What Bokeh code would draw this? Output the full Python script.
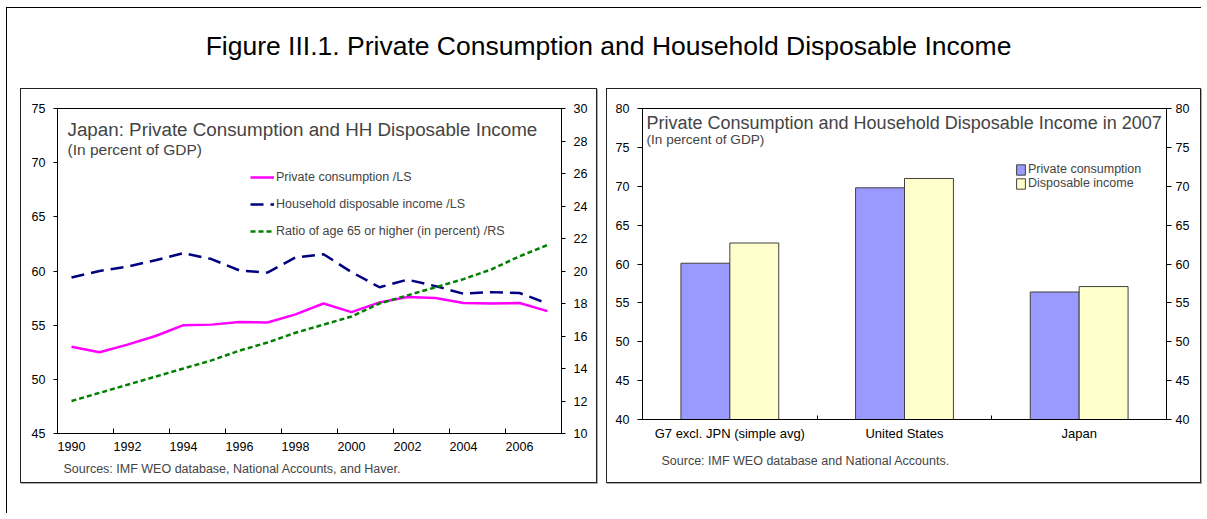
from bokeh.plotting import figure
from bokeh.models import Range1d, LinearAxis, FixedTicker, Label, Spacer, ColumnDataSource, Title
from bokeh.layouts import column, row
from bokeh.transform import dodge
from bokeh.embed import file_html
from bokeh.resources import INLINE

FONT = "Liberation Sans"

# ---------------- data ----------------
years = list(range(1990, 2008))
private_consumption = [53.0, 52.5, 53.2, 54.0, 55.0, 55.05, 55.3, 55.25, 56.0, 57.0,
                       56.2, 57.1, 57.6, 57.5, 57.05, 57.0, 57.05, 56.3]
hh_disposable_income = [59.4, 60.0, 60.4, 61.0, 61.65, 61.1, 60.05, 59.85, 61.25, 61.55,
                        59.9, 58.5, 59.2, 58.6, 57.9, 58.05, 57.97, 57.0]
ratio_65_plus = [12.0, 12.5, 13.0, 13.5, 14.0, 14.5, 15.1, 15.6, 16.2, 16.7,
                 17.2, 18.0, 18.5, 19.0, 19.5, 20.1, 20.9, 21.6]
year_ticks = list(range(1990, 2007, 2))
left_ticks = [45, 50, 55, 60, 65, 70, 75]
right_ticks = [10, 12, 14, 16, 18, 20, 22, 24, 26, 28, 30]

categories = ["G7 excl. JPN (simple avg)", "United States", "Japan"]
pc_2007 = [60.1, 69.8, 56.4]
di_2007 = [62.7, 71.0, 57.1]
bar_ticks = [40, 45, 50, 55, 60, 65, 70, 75, 80]


def style_axis(ax, size="12.5px"):
    ax.major_label_text_font = FONT
    ax.major_label_text_font_size = size
    ax.major_label_text_color = "black"
    ax.axis_line_color = "black"
    ax.major_tick_line_color = "black"
    ax.minor_tick_line_color = None


# ---------------- title strip ----------------
tfig = figure(width=1194, height=80, x_axis_type=None, y_axis_type=None,
              toolbar_location=None, output_backend="svg", min_border=0,
              outline_line_color=None, x_range=Range1d(0, 1), y_range=Range1d(0, 1))
tfig.grid.visible = False
tfig.add_layout(Label(x=601, y=43, x_units="screen", y_units="screen",
                      text="Figure III.1. Private Consumption and Household Disposable Income",
                      text_align="center", text_baseline="middle",
                      text_font=FONT, text_font_size="26.5px", text_color="black"))

# ---------------- left chart ----------------
left = figure(width=577, height=395, x_range=Range1d(1989.5, 2007.5), y_range=Range1d(45, 75),
              toolbar_location=None, output_backend="svg",
              min_border_left=36, min_border_right=37, min_border_top=19, min_border_bottom=51,
              outline_line_color="black", background_fill_color="white",
              styles={"border": "1px solid #222", "box-shadow": "1px 1px 0 #aaa"})
left.grid.visible = False
left.extra_y_ranges = {"rs": Range1d(10, 30)}

src = ColumnDataSource(dict(year=years, pc=private_consumption,
                            hdi=hh_disposable_income, old=ratio_65_plus))
left.line("year", "pc", source=src, line_color="#FF00FF", line_width=2.5,
          legend_label="Private consumption /LS")
left.line("year", "hdi", source=src, line_color="#000080", line_width=2.5,
          line_dash="13 7", legend_label="Household disposable income /LS")
left.line("year", "old", source=src, line_color="#008000", line_width=2.5,
          line_dash="5 3", y_range_name="rs",
          legend_label="Ratio of age 65 or higher (in percent) /RS")

xa = left.xaxis[0]
xa.ticker = FixedTicker(ticks=year_ticks, minor_ticks=[y - 0.5 for y in years[::2]] + [years[-1] + 0.5])
style_axis(xa)
xa.major_tick_line_color = None
xa.major_tick_in = 0
xa.major_tick_out = 0
xa.minor_tick_line_color = "black"
xa.minor_tick_in = 5
xa.minor_tick_out = 0
xa.major_label_standoff = 8

ya = left.yaxis[0]
ya.ticker = FixedTicker(ticks=left_ticks)
style_axis(ya)
ya.major_tick_in = 0
ya.major_tick_out = 4
ya.major_label_standoff = 8

ra = LinearAxis(y_range_name="rs", ticker=FixedTicker(ticks=right_ticks))
style_axis(ra)
ra.major_tick_in = 0
ra.major_tick_out = 4
ra.major_label_standoff = 8
left.add_layout(ra, "right")

leg = left.legend[0]
leg.location = (193, 192)
leg.background_fill_alpha = 0
leg.border_line_color = None
leg.padding = 0
leg.margin = 0
leg.spacing = 7
leg.glyph_width = 24
leg.glyph_height = 20
leg.label_height = 20
leg.label_standoff = 2
leg.label_text_font = FONT
leg.label_text_font_size = "12.5px"

left.add_layout(Label(x=10, y=304, x_units="screen", y_units="screen",
                      text="Japan: Private Consumption and HH Disposable Income",
                      text_baseline="middle", text_font=FONT, text_font_size="18.8px"))
left.add_layout(Label(x=10, y=284, x_units="screen", y_units="screen",
                      text="(In percent of GDP)",
                      text_baseline="middle", text_font=FONT, text_font_size="15.5px"))
left.add_layout(Title(text="Sources: IMF WEO database, National Accounts, and Haver.",
                      align="left", offset=6, standoff=13, text_font=FONT,
                      text_font_size="12.5px", text_font_style="normal"), "below")

# ---------------- right chart ----------------
cat_x = [i + 0.5 for i in range(len(categories))]
bsrc = ColumnDataSource(dict(x=cat_x, cat=categories, pc=pc_2007, di=di_2007))

right = figure(width=595, height=395, x_range=Range1d(0, len(categories)), y_range=Range1d(40, 80),
               toolbar_location=None, output_backend="svg",
               min_border_left=35, min_border_right=36, min_border_top=19, min_border_bottom=65,
               outline_line_color="black", background_fill_color="white",
               styles={"border": "1px solid #222", "box-shadow": "1px 1px 0 #aaa"})
right.grid.visible = False
right.vbar(x=dodge("x", -0.14), top="pc", bottom=40, width=0.28, source=bsrc,
           fill_color="#9999FF", line_color="#404040", line_width=1,
           legend_label="Private consumption")
right.vbar(x=dodge("x", 0.14), top="di", bottom=40, width=0.28, source=bsrc,
           fill_color="#FFFFCC", line_color="#404040", line_width=1,
           legend_label="Disposable income")

bx = right.xaxis[0]
bx.ticker = FixedTicker(ticks=cat_x, minor_ticks=list(range(1, len(categories))))
bx.major_label_overrides = {x: c for x, c in zip(cat_x, categories)}
style_axis(bx, "13px")
bx.major_tick_line_color = None
bx.major_tick_in = 0
bx.major_tick_out = 0
bx.minor_tick_line_color = "black"
bx.minor_tick_in = 4
bx.minor_tick_out = 0
bx.major_label_standoff = 6

by = right.yaxis[0]
by.ticker = FixedTicker(ticks=bar_ticks)
style_axis(by)
by.major_tick_in = 0
by.major_tick_out = 5
by.major_label_standoff = 8

by2 = LinearAxis(ticker=FixedTicker(ticks=bar_ticks))
style_axis(by2)
by2.major_tick_in = 0
by2.major_tick_out = 5
by2.major_label_standoff = 4
right.add_layout(by2, "right")

rleg = right.legend[0]
rleg.location = (373, 229)
rleg.background_fill_alpha = 0
rleg.border_line_color = None
rleg.padding = 0
rleg.margin = 0
rleg.spacing = 0
rleg.glyph_width = 11
rleg.glyph_height = 13
rleg.label_height = 13
rleg.label_standoff = 2
rleg.label_text_font = FONT
rleg.label_text_font_size = "12.5px"

right.add_layout(Label(x=4, y=297, x_units="screen", y_units="screen",
                       text="Private Consumption and Household Disposable Income in 2007",
                       text_baseline="middle", text_font=FONT, text_font_size="18px"))
right.add_layout(Label(x=4, y=280, x_units="screen", y_units="screen",
                       text="(In percent of GDP)",
                       text_baseline="middle", text_font=FONT, text_font_size="13.6px"))
right.add_layout(Title(text="Source: IMF WEO database and National Accounts.",
                       align="left", offset=19, standoff=17, text_font=FONT,
                       text_font_size="12.5px", text_font_style="normal"), "below")

# ---------------- page ----------------
panels = row(column(left), column(right), spacing=9, margin=(0, 0, 0, 13))
page = column(tfig, panels, Spacer(height=30), margin=(7, 0, 0, 6),
              styles={"border-left": "1px solid black", "border-top": "1px solid black"})

open("out.html", "w").write(file_html(page, INLINE))
